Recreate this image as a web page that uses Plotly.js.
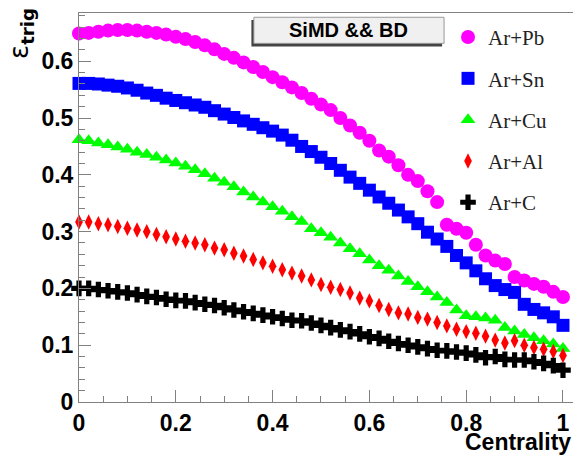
<!DOCTYPE html>
<html>
<head>
<meta charset="utf-8">
<script src="https://cdn.plot.ly/plotly-3.0.1.min.js"></script>
<style>html,body{margin:0;padding:0;background:#fff;}#chart{width:573px;height:456px;}</style>
</head>
<body>
<div id="chart"></div>
<script>
// Centrality bins (0 to 1, step 0.02)
const centrality = [0.00,0.02,0.04,0.06,0.08,0.10,0.12,0.14,0.16,0.18,0.20,0.22,0.24,0.26,0.28,0.30,0.32,0.34,0.36,0.38,0.40,0.42,0.44,0.46,0.48,0.50,0.52,0.54,0.56,0.58,0.60,0.62,0.64,0.66,0.68,0.70,0.72,0.74,0.76,0.78,0.80,0.82,0.84,0.86,0.88,0.90,0.92,0.94,0.96,0.98,1.00];

const seriesNames = ["Ar+Pb", "Ar+Sn", "Ar+Cu", "Ar+Al", "Ar+C"];

const effArPb = [0.649,0.650,0.652,0.654,0.655,0.655,0.654,0.652,0.650,0.647,0.643,0.639,0.634,0.628,0.621,0.613,0.606,0.598,0.590,0.581,0.572,0.563,0.554,0.544,0.534,0.524,0.514,0.500,0.487,0.474,0.460,0.443,0.432,0.417,0.400,0.389,0.371,0.352,0.312,0.305,0.298,0.277,0.258,0.249,0.243,0.220,0.214,0.208,0.203,0.194,0.185];

const effArSn = [0.561,0.561,0.560,0.558,0.556,0.553,0.549,0.544,0.540,0.535,0.531,0.527,0.523,0.519,0.513,0.507,0.501,0.495,0.489,0.483,0.477,0.470,0.461,0.450,0.441,0.431,0.420,0.408,0.396,0.385,0.373,0.361,0.350,0.338,0.326,0.314,0.299,0.287,0.274,0.258,0.245,0.231,0.217,0.205,0.198,0.193,0.172,0.163,0.157,0.150,0.135];

const effArCu = [0.462,0.460,0.456,0.453,0.449,0.445,0.440,0.436,0.431,0.426,0.421,0.415,0.409,0.402,0.394,0.387,0.379,0.370,0.361,0.352,0.344,0.336,0.326,0.318,0.305,0.298,0.290,0.280,0.270,0.261,0.250,0.240,0.232,0.222,0.212,0.203,0.194,0.185,0.175,0.162,0.152,0.150,0.148,0.144,0.131,0.125,0.119,0.113,0.108,0.102,0.094];

const effArAl = [0.317,0.317,0.314,0.312,0.309,0.306,0.303,0.300,0.295,0.291,0.287,0.283,0.280,0.277,0.271,0.268,0.262,0.257,0.251,0.245,0.239,0.233,0.227,0.222,0.215,0.207,0.202,0.198,0.192,0.183,0.178,0.170,0.163,0.157,0.155,0.149,0.146,0.140,0.134,0.128,0.124,0.121,0.116,0.109,0.104,0.108,0.100,0.096,0.093,0.089,0.082];

const effArC = [0.200,0.200,0.198,0.196,0.194,0.192,0.189,0.186,0.184,0.181,0.179,0.178,0.175,0.172,0.170,0.166,0.162,0.159,0.156,0.153,0.150,0.147,0.144,0.143,0.139,0.135,0.131,0.127,0.124,0.120,0.115,0.112,0.107,0.103,0.100,0.097,0.094,0.091,0.090,0.088,0.086,0.083,0.078,0.080,0.075,0.074,0.074,0.071,0.068,0.064,0.056];

const xTickVals = [0, 0.2, 0.4, 0.6, 0.8, 1];
const xTickText = ["0", "0.2", "0.4", "0.6", "0.8", "1"];
const yTickVals = [0, 0.1, 0.2, 0.3, 0.4, 0.5, 0.6];
const yTickText = ["0", "0.1", "0.2", "0.3", "0.4", "0.5", "0.6"];

const allSeries = [effArPb, effArSn, effArCu, effArAl, effArC];
const styles = [
  {color: "#ff00ff", symbol: "circle", size: 14},
  {color: "#0000ff", symbol: "square", size: 13},
  {color: "#00ff00", symbol: "triangle-up", size: 13},
  {color: "#ff0000", symbol: "diamond-tall", size: 11},
  {color: "#000000", symbol: "cross", size: 13}
];

const traces = allSeries.map((vals, i) => ({
  type: "scatter",
  mode: "markers",
  name: seriesNames[i],
  legendgroup: "g" + i,
  x: centrality,
  y: vals,
  cliponaxis: false,
  marker: {color: styles[i].color, symbol: styles[i].symbol, size: styles[i].size, line: {width: 0}}
}));

const axisGrey = "#808080";
const layout = {
  width: 573, height: 456,
  autosize: false,
  margin: {l: 79, r: 0, t: 13, b: 54, pad: 0},
  paper_bgcolor: "#ffffff",
  plot_bgcolor: "#ffffff",
  font: {family: "Liberation Sans, Arial, sans-serif", color: "#000"},
  showlegend: true,
  legend: {
    x: 0.747, y: 0.99, xanchor: "left", yanchor: "top",
    bgcolor: "rgba(0,0,0,0)", borderwidth: 0,
    font: {family: "Liberation Serif, Times New Roman, serif", size: 21, color: "#222"},
    traceorder: "grouped", tracegroupgap: 11
  },
  xaxis: {
    range: [0, 1.0207],
    tickmode: "array", tickvals: xTickVals, ticktext: xTickText,
    ticks: "inside", ticklen: 12, tickwidth: 1, tickcolor: axisGrey,
    minor: {dtick: 0.05, ticks: "inside", ticklen: 6, tickcolor: axisGrey, tickwidth: 1},
    showline: true, linecolor: axisGrey, linewidth: 1, mirror: true,
    showgrid: false, zeroline: false,
    tickfont: {family: "Liberation Sans, Arial, sans-serif", size: 23, weight: "bold", color: "#000"}
  },
  yaxis: {
    range: [0, 0.685],
    tickmode: "array", tickvals: yTickVals, ticktext: yTickText,
    ticks: "inside", ticklen: 12, tickwidth: 1, tickcolor: axisGrey,
    minor: {dtick: 0.02, ticks: "inside", ticklen: 6, tickcolor: axisGrey, tickwidth: 1},
    showline: true, linecolor: axisGrey, linewidth: 1,
    showgrid: false, zeroline: false,
    tickfont: {family: "Liberation Sans, Arial, sans-serif", size: 23, weight: "bold", color: "#000"}
  },
  shapes: [
    {type: "rect", xref: "paper", yref: "paper", x0: 0.349, x1: 0.735, y0: 0.914, y1: 0.982,
     fillcolor: "#444", line: {width: 0}},
    {type: "rect", xref: "paper", yref: "paper", x0: 0.354, x1: 0.739, y0: 0.922, y1: 0.989,
     fillcolor: "#f0f0f0", line: {color: "#999", width: 1}}
  ],
  annotations: [
    {text: "<b>SiMD &amp;&amp; BD</b>", xref: "paper", yref: "paper", x: 0.546, y: 0.956,
     xanchor: "center", yanchor: "middle", showarrow: false,
     font: {family: "Liberation Sans, Arial, sans-serif", size: 20, color: "#000"}},
    {text: "<b>Centrality</b>", xref: "paper", yref: "paper", x: 1.0, y: -0.104,
     xanchor: "right", yanchor: "middle", showarrow: false,
     font: {family: "Liberation Sans, Arial, sans-serif", size: 23, color: "#000"}},
    {text: "ε<sub><b>trig</b></sub>", xref: "paper", yref: "paper", x: -0.118, y: 0.948,
     xanchor: "center", yanchor: "middle", textangle: -90, showarrow: false,
     font: {family: "DejaVu Sans, sans-serif", size: 26, color: "#000"}}
  ]
};

Plotly.newPlot("chart", traces, layout, {displayModeBar: false, staticPlot: true});
</script>
</body>
</html>
